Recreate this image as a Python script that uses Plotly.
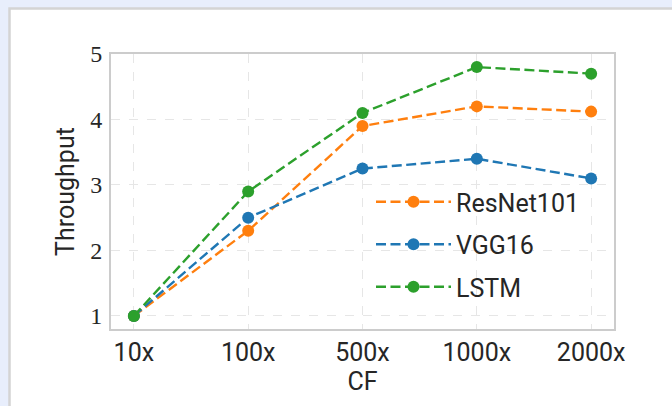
import plotly.graph_objects as go

categories = ["10x", "100x", "500x", "1000x", "2000x"]
resnet101 = [1.0, 2.3, 3.9, 4.2, 4.12]
vgg16 = [1.0, 2.5, 3.25, 3.4, 3.1]
lstm = [1.0, 2.9, 4.1, 4.8, 4.7]
y_ticks = [1, 2, 3, 4, 5]

series = [("ResNet101", resnet101, "#ff7f0e"),
          ("VGG16", vgg16, "#1f77b4"),
          ("LSTM", lstm, "#2ca02c")]

fig = go.Figure()
for i, (name, vals, color) in enumerate(series):
    fig.add_trace(go.Scatter(
        x=categories, y=vals, name=name, mode="lines+markers",
        line=dict(color=color, width=2.4, dash="10px,4.5px"),
        marker=dict(color=color, size=12),
        legendgroup=f"g{i}",
    ))

L, R, T, B = 111, 58, 54, 77
W, H = 672, 406
pw, ph = W - L - R, H - T - B

fig.add_shape(type="rect", xref="paper", yref="paper",
              x0=(9.5 - L) / pw, x1=2, y0=-1, y1=1 + (T - 8.5) / ph,
              fillcolor="white", line=dict(color="#d4d4d4", width=2.5),
              layer="below")

fig.update_layout(
    width=W, height=H,
    margin=dict(l=L, r=R, t=T, b=B),
    paper_bgcolor="#e8eefc",
    plot_bgcolor="white",
    showlegend=True,
    legend=dict(x=(371 - L) / pw, y=(H - B - 179) / ph, xanchor="left", yanchor="top",
                bgcolor="rgba(0,0,0,0)", font=dict(family="Roboto", size=25, color="#262626"),
                traceorder="grouped", tracegroupgap=7, itemwidth=75),
    xaxis=dict(
        type="category", range=[-0.2, 4.2],
        showgrid=True, gridcolor="#e6e6e6", griddash="dash", gridwidth=1,
        showline=True, linecolor="#cccccc", linewidth=2, mirror=True,
        ticks="", tickfont=dict(family="Roboto", size=25, color="#262626"),
        title=dict(text="CF", font=dict(family="Roboto", size=25, color="#262626"), standoff=6),
        zeroline=False,
    ),
    yaxis=dict(
        range=[0.8, 5.0], tickvals=y_ticks, ticktext=[str(v) for v in y_ticks],
        showgrid=True, gridcolor="#e6e6e6", griddash="dash", gridwidth=1,
        showline=True, linecolor="#cccccc", linewidth=2, mirror=True,
        ticks="", ticklabelstandoff=2,
        tickfont=dict(family="Liberation Serif", size=24, color="#262626"),
        title=dict(text="Throughput", font=dict(family="Roboto", size=25, color="#262626"), standoff=8),
        zeroline=False,
    ),
)

fig.write_html("out.html", config={"displayModeBar": False},
               post_script="document.body.style.margin='0';document.body.style.overflow='hidden';")
